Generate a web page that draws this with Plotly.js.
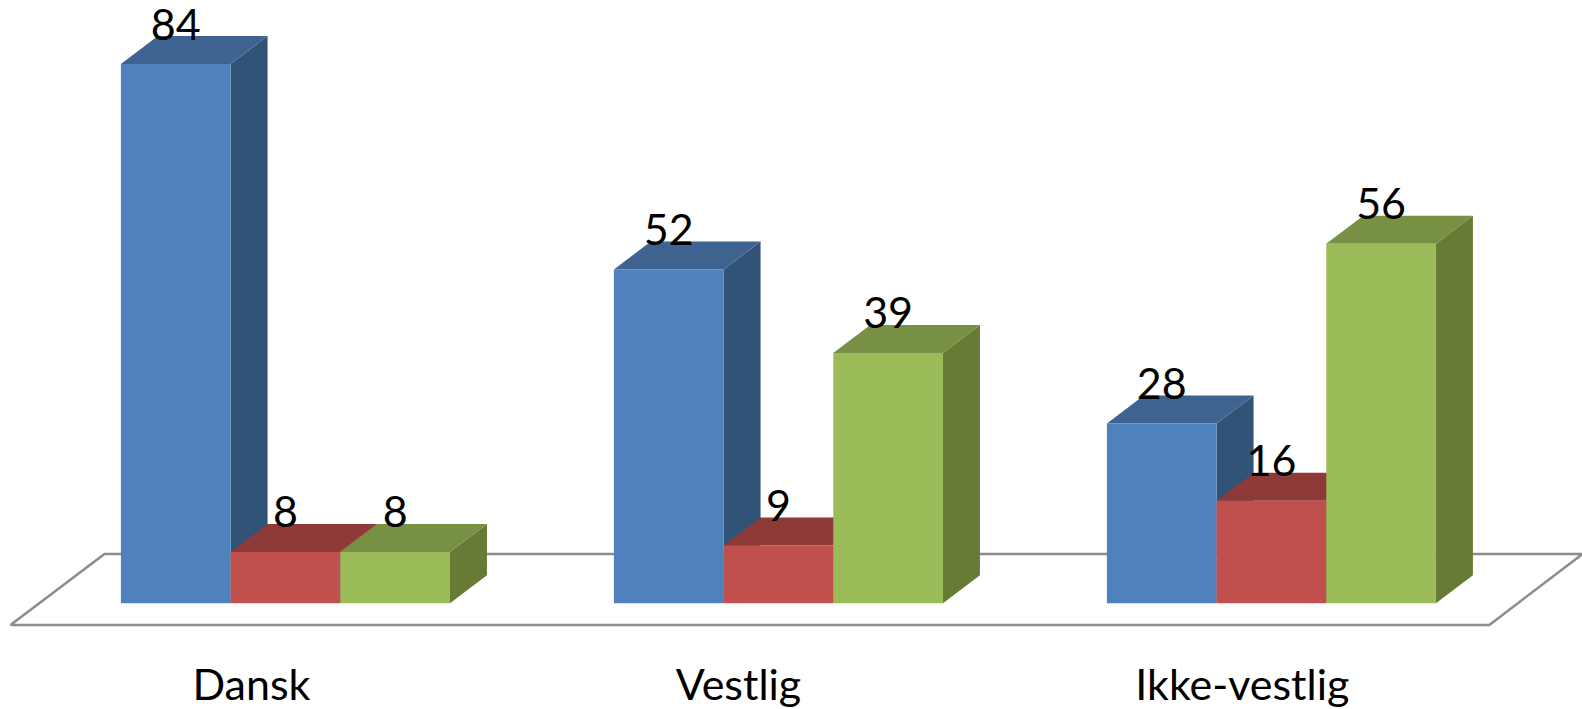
<!DOCTYPE html>
<html><head><meta charset="utf-8">
<script src="https://cdn.plot.ly/plotly-3.0.1.min.js"></script>
<style>html,body{margin:0;padding:0;background:#fff;overflow:hidden}#c{width:1582px;height:709px}</style>
</head><body><div id="c"></div>
<script>
const categories = ["Dansk", "Vestlig", "Ikke-vestlig"];
const categoryTickPositions = [-0.069, 0.919, 1.941];
const series1 = [84, 52, 28];
const series2 = [8, 9, 16];
const series3 = [8, 39, 56];

const seriesList = [series1, series2, series3];
const frontColors = ["#4F81BD", "#C0504D", "#9BBB59"];
const topColors = ["#3E6391", "#8E3A38", "#789044"];
const sideColors = ["#325378", "#7C3230", "#677A36"];

// axis geometry
const xRange = [-0.579, 2.63];
const yRange = [-7.11, 93.98];
const barWidth = 0.2225;
const depthX = 0.075;   // oblique depth in category units
const depthY = 4.36;    // oblique depth in value units
const labelLift = 5.5;
const floorX = [-0.5578, -0.3671, 2.631, 2.442, -0.5578];
const floorY = [-3.36, 7.69, 7.69, -3.36, -3.36];

const centers = categories.map((_, i) => i);
const traces = [];

traces.push({type: "scatter", mode: "lines", x: floorX, y: floorY, cliponaxis: false,
  line: {color: "#8C8C8C", width: 2.5}, hoverinfo: "skip", showlegend: false});

seriesList.forEach((vals, s) => {
  const sideX = [], sideY = [], topX = [], topY = [];
  vals.forEach((v, i) => {
    const l = centers[i] + (s - 1.5) * barWidth, r = l + barWidth;
    sideX.push(r, r + depthX, r + depthX, r, r, null);
    sideY.push(0, depthY, v + depthY, v, 0, null);
    topX.push(l, l + depthX, r + depthX, r, l, null);
    topY.push(v, v + depthY, v + depthY, v, v, null);
  });
  traces.push({type: "scatter", mode: "lines", x: sideX, y: sideY, fill: "toself", fillcolor: sideColors[s],
    line: {width: 0, color: sideColors[s]}, hoverinfo: "skip", showlegend: false});
  traces.push({type: "scatter", mode: "lines", x: topX, y: topY, fill: "toself", fillcolor: topColors[s],
    line: {width: 0, color: topColors[s]}, hoverinfo: "skip", showlegend: false});
});

seriesList.forEach((vals, s) => {
  traces.push({type: "bar", x: centers, y: vals, xaxis: "x2", yaxis: "y2",
    marker: {color: frontColors[s], line: {width: 0}}, showlegend: false});
});
seriesList.forEach((vals, s) => {
  traces.push({type: "scatter", mode: "text", xaxis: "x2", yaxis: "y2",
    x: centers.map(c => c + (s - 1) * barWidth), y: vals.map(v => v + labelLift),
    text: vals.map(String), textposition: "middle center", cliponaxis: false,
    textfont: {family: "Lato", size: 43, color: "#000"}, hoverinfo: "skip", showlegend: false});
});

const layout = {
  width: 1582, height: 709, paper_bgcolor: "#fff", plot_bgcolor: "rgba(0,0,0,0)",
  margin: {l: 0, r: 0, t: 0, b: 60, pad: 0},
  barmode: "group", bargap: 1 - 3 * barWidth, bargroupgap: 0, showlegend: false,
  xaxis: {range: xRange, tickmode: "array", tickvals: categoryTickPositions, ticktext: categories,
    showgrid: false, zeroline: false, showline: false, ticks: "", tickangle: 0, ticklabelstandoff: 7,
    tickfont: {family: "Lato", size: 43, color: "#000"}, fixedrange: true},
  yaxis: {range: yRange, visible: false, fixedrange: true},
  xaxis2: {range: xRange, overlaying: "x", visible: false, fixedrange: true},
  yaxis2: {range: yRange, overlaying: "y", visible: false, fixedrange: true}
};
Plotly.newPlot("c", traces, layout, {displayModeBar: false, staticPlot: true});
</script></body></html>
